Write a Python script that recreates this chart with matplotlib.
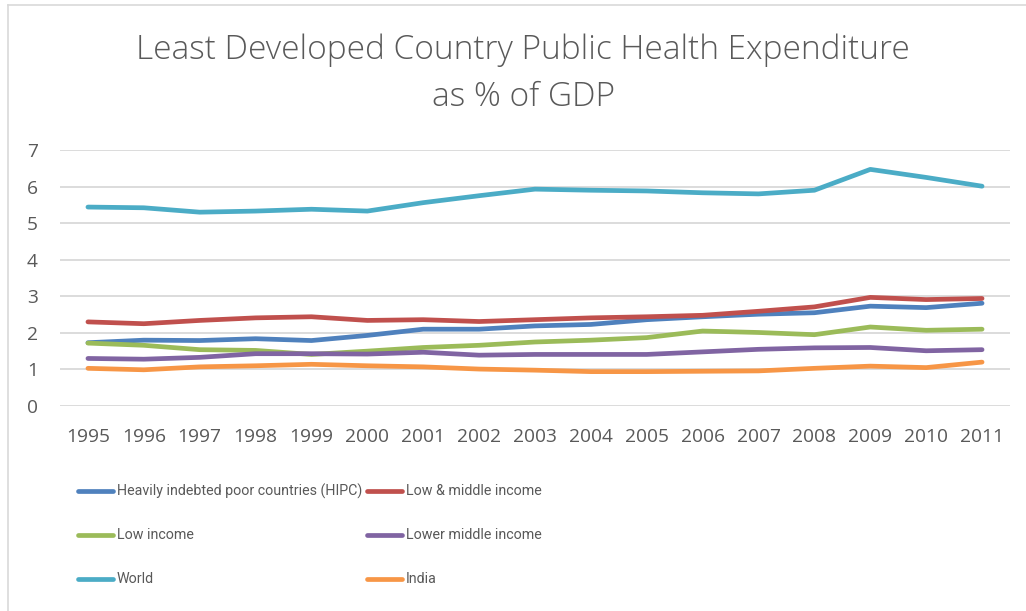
import matplotlib
matplotlib.use("Agg")
import matplotlib.pyplot as plt
from matplotlib.lines import Line2D

years = list(range(1995, 2012))

hipc = [1.73, 1.80, 1.79, 1.84, 1.79, 1.93, 2.10, 2.10, 2.19, 2.23, 2.36, 2.44, 2.51, 2.55, 2.73, 2.69, 2.81]
low_middle = [2.30, 2.25, 2.34, 2.41, 2.44, 2.34, 2.36, 2.31, 2.36, 2.41, 2.44, 2.48, 2.59, 2.71, 2.97, 2.91, 2.94]
low_income = [1.72, 1.66, 1.54, 1.52, 1.41, 1.50, 1.60, 1.66, 1.75, 1.80, 1.87, 2.05, 2.01, 1.95, 2.16, 2.07, 2.10]
lower_middle = [1.30, 1.28, 1.33, 1.43, 1.43, 1.42, 1.47, 1.39, 1.41, 1.41, 1.41, 1.48, 1.55, 1.59, 1.60, 1.51, 1.54]
world = [5.44, 5.42, 5.30, 5.33, 5.38, 5.33, 5.56, 5.75, 5.93, 5.90, 5.88, 5.83, 5.80, 5.90, 6.47, 6.25, 6.01]
india = [1.03, 0.99, 1.07, 1.10, 1.14, 1.10, 1.07, 1.01, 0.98, 0.94, 0.94, 0.95, 0.96, 1.03, 1.09, 1.05, 1.20]

series = [
    ("Heavily indebted poor countries (HIPC)", hipc, "#4F81BD"),
    ("Low & middle income", low_middle, "#C0504D"),
    ("Low income", low_income, "#9BBB59"),
    ("Lower middle income", lower_middle, "#8064A2"),
    ("World", world, "#4BACC6"),
    ("India", india, "#F79646"),
]

text_color = "#595959"
grid_color = "#D9D9D9"
plt.rcParams["font.family"] = ["Open Sans", "DejaVu Sans"]

W, H = 1026, 611
fig = plt.figure(figsize=(W / 100, H / 100), dpi=100)
ax = fig.add_axes([60 / W, 1 - 406 / H, 950 / W, 256 / H])

for name, vals, col in series:
    ax.plot(years, vals, color=col, lw=3.4, solid_capstyle="round",
            solid_joinstyle="round", zorder=3)

ax.set_xlim(1994.5, 2011.5)
ax.set_ylim(0, 7)
ax.set_yticks(range(0, 8))
ax.set_xticks(years)
ax.set_xticklabels([str(y) for y in years])
ax.grid(axis="y", color=grid_color, lw=1.3)
ax.set_axisbelow(True)
for s in ax.spines.values():
    s.set_visible(False)
ax.tick_params(axis="both", length=0, labelsize=13.8, colors=text_color)
ax.tick_params(axis="x", pad=16)
ax.tick_params(axis="y", pad=16)

fig.text(523 / W, 1 - 50 / H, "Least Developed Country Public Health Expenditure",
         ha="center", va="center", fontsize=24, color=text_color, fontweight="light")
fig.text(523 / W, 1 - 97 / H, "as % of GDP",
         ha="center", va="center", fontsize=24, color=text_color, fontweight="light")

# Legend laid out in two columns, three rows
col_x = [78, 367]
row_y = [491, 535, 579]
legend_texts = []
for i, (name, vals, col) in enumerate(series):
    cx = col_x[i % 2]
    ry = row_y[i // 2]
    fig.add_artist(Line2D([cx / W, (cx + 35) / W], [1 - ry / H, 1 - ry / H],
                          color=col, lw=3.4, solid_capstyle="round"))
    t = fig.text((cx + 39) / W, 1 - ry / H, name, ha="left", va="center",
                 fontsize=14, color=text_color, family=["Roboto", "DejaVu Sans"])
    legend_texts.append(t)

# Size the legend text so the longest label fits before the second column
renderer = fig.canvas.get_renderer()
width_px = legend_texts[0].get_window_extent(renderer).width
new_size = 14 * 246 / width_px
for t in legend_texts:
    t.set_fontsize(new_size)

# Chart area border (top and left edges)
fig.add_artist(Line2D([8 / W, 1], [1 - 5 / H, 1 - 5 / H], color=grid_color, lw=1.2))
fig.add_artist(Line2D([8 / W, 8 / W], [1 - 5 / H, 0], color=grid_color, lw=1.2))

fig.savefig("out.png", dpi=100)
